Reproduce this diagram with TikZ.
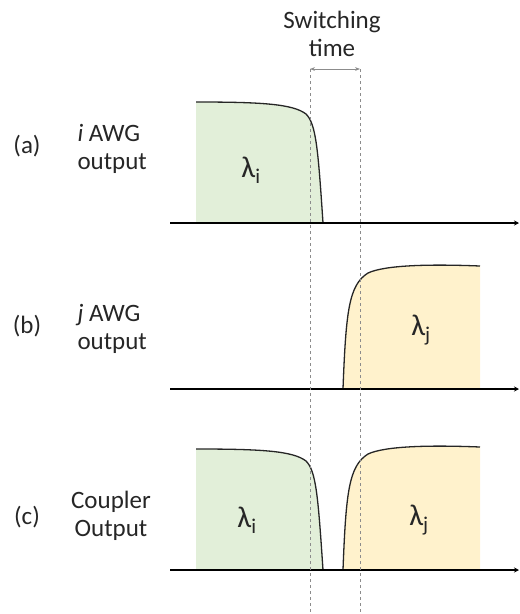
\documentclass[tikz,border=0pt]{standalone}
\usepackage{fontspec}
\setmainfont{Carlito}
\usetikzlibrary{positioning,arrows.meta}
\definecolor{pulsei}{HTML}{E2EFD9}
\definecolor{pulsej}{HTML}{FFF2CC}
\definecolor{guide}{HTML}{8C8C8C}
\definecolor{txt}{HTML}{262626}

\begin{document}
\begin{tikzpicture}[x=1pt,y=-1pt,font=\fontsize{25}{28}\selectfont,text=txt,
   axis/.style={line width=1.4pt,-{Stealth[length=5pt,width=5pt]}},
   edge/.style={line width=1.3pt,draw=black!85},
   guide/.style={dashed,draw=guide,line width=0.6pt},
   dim/.style={{Stealth[length=5pt]}-{Stealth[length=5pt]},draw=guide,line width=0.6pt},
   lam/.style={font=\fontsize{30}{30}\selectfont}]
\useasboundingbox (0,0) rectangle (520,614);
% pulses
\fill[pulsei] (196,223) -- (196,102) .. controls (262,102) and (293,104) .. (306,114)
   .. controls (316,124) and (318,148) .. (323,223) -- cycle;
\draw[edge] (196,102) .. controls (262,102) and (293,104) .. (306,114)
   .. controls (316,124) and (318,148) .. (323,223);
\fill[pulsej] (343,389) .. controls (346,310) and (349,285) .. (368,273)
   .. controls (385,265) and (430,264) .. (480,266) -- (480,389) -- cycle;
\draw[edge] (343,389) .. controls (346,310) and (349,285) .. (368,273)
   .. controls (385,265) and (430,264) .. (480,266);
\begin{scope}[shift={(0,347)}]
\fill[pulsei] (196,223) -- (196,102) .. controls (262,102) and (293,104) .. (306,114)
   .. controls (316,124) and (318,148) .. (323,223) -- cycle;
\draw[edge] (196,102) .. controls (262,102) and (293,104) .. (306,114)
   .. controls (316,124) and (318,148) .. (323,223);
\end{scope}
\begin{scope}[shift={(0,181)}]
\fill[pulsej] (343,389) .. controls (346,310) and (349,285) .. (368,273)
   .. controls (385,265) and (430,264) .. (480,266) -- (480,389) -- cycle;
\draw[edge] (343,389) .. controls (346,310) and (349,285) .. (368,273)
   .. controls (385,265) and (430,264) .. (480,266);
\end{scope}
% axes
\coordinate (axa0) at (170,223); \coordinate (axa1) at (519,223);
\coordinate (axb0) at (170,389); \coordinate (axb1) at (519,389);
\coordinate (axc0) at (170,570); \coordinate (axc1) at (519,570);
\draw[axis] (axa0) -- (axa1);
\draw[axis] (axb0) -- (axb1);
\draw[axis] (axc0) -- (axc1);
% switching window
\coordinate (swl) at (310,69); \coordinate (swr) at (360,69);
\coordinate (swlb) at (310,614); \coordinate (swrb) at (360,614);
\draw[guide] (swl) -- (swlb);
\draw[guide] (swr) -- (swrb);
\draw[dim] (swl) -- (swr);
\node[align=center] (swt) at (332,34) {Switching\\time};
% labels
\node (lbla) at (27,146) {(a)};
\node (lblb) at (27,326) {(b)};
\node (lblc) at (27,517) {(c)};
\node[anchor=west,align=left] (desca) at (74,149) {\textit{i} AWG\\output};
\node[anchor=west,align=left] (descb) at (74,329) {\textit{j} AWG\\output};
\node[align=center] (descc) at (111,516) {Coupler\\Output};
\node[lam] (lamai) at (251,170) {λ\textsubscript{i}};
\node[lam] (lambj) at (421,330) {λ\textsubscript{j}};
\node[lam] (lamci) at (247,520) {λ\textsubscript{i}};
\node[lam] (lamcj) at (419,520) {λ\textsubscript{j}};
\end{tikzpicture}
\end{document}
